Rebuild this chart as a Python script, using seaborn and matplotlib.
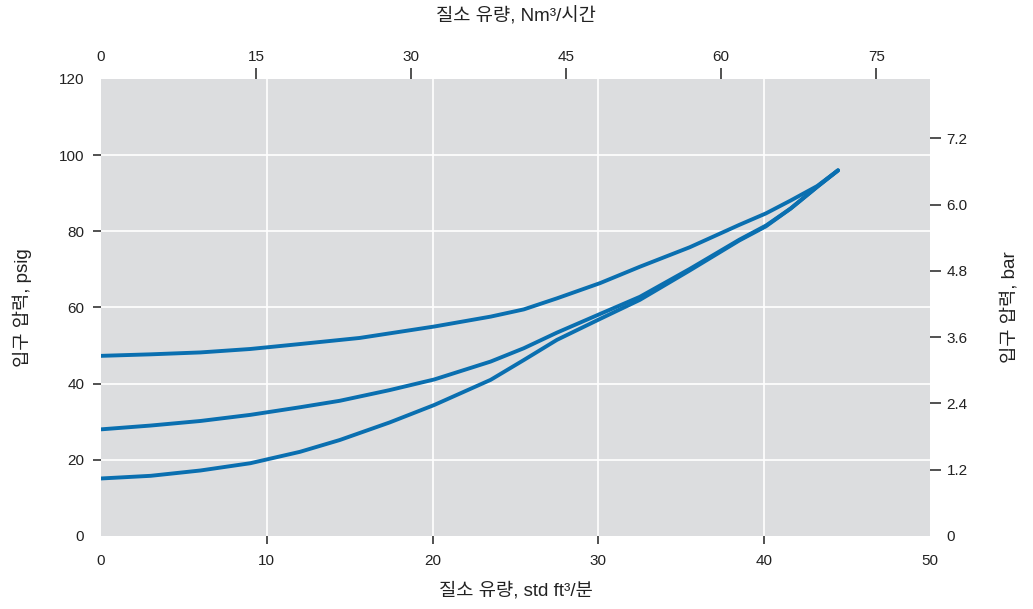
import numpy as np
import pandas as pd
import seaborn as sns
import matplotlib
matplotlib.use('Agg')
import matplotlib.pyplot as plt
from matplotlib.ticker import FixedLocator, FixedFormatter

# data (x in std ft3/min, y in psig)
flow_upper = [0, 3, 6, 9, 12, 15.6, 17.4, 20.1, 23.5, 25.5, 27.5, 30.1,
              32.5, 35.5, 38.5, 40.1, 41.6, 43.2, 44.45]
psig_upper = [47.3, 47.7, 48.2, 49.1, 50.4, 52.0, 53.2, 55.0, 57.6, 59.5, 62.4, 66.4,
              70.7, 75.8, 81.7, 84.7, 88.1, 91.9, 96.0]

flow_middle = [0, 3, 6, 9, 12, 14.4, 17.4, 20.1, 23.5, 25.5, 27.5, 30.1,
               32.5, 35.5, 38.5, 40.1, 41.6, 43.2, 44.45]
psig_middle = [28.0, 29.0, 30.2, 31.8, 33.8, 35.5, 38.3, 41.1, 45.8, 49.3, 53.4, 58.3,
               62.8, 70.1, 77.8, 81.5, 86.0, 91.7, 96.0]

flow_lower = [0, 3, 6, 9, 12, 14.4, 17.4, 20.1, 23.5, 25.5, 27.5, 30.1,
              32.5, 35.5, 38.5, 40.1, 41.6, 43.2, 44.45]
psig_lower = [15.1, 15.8, 17.2, 19.1, 22.1, 25.2, 29.8, 34.4, 41.0, 46.2, 51.5, 57.0,
              62.0, 69.7, 77.6, 81.3, 86.0, 91.7, 96.0]

bottom_ticks = [0, 10, 20, 30, 40, 50]
left_ticks = [0, 20, 40, 60, 80, 100, 120]
top_ticks = [0, 15, 30, 45, 60, 75]
right_ticks = [0, 1.2, 2.4, 3.6, 4.8, 6.0, 7.2]
right_labels = ['0', '1.2', '2.4', '3.6', '4.8', '6.0', '7.2']

SCFM_TO_NM3H = 1.604
PSI_TO_BAR = 0.06895

rows = []
for name, xs, ys in [('upper', flow_upper, psig_upper),
                     ('middle', flow_middle, psig_middle),
                     ('lower', flow_lower, psig_lower)]:
    for x, y in zip(xs, ys):
        rows.append({'curve': name, 'flow': x, 'psig': y})
df = pd.DataFrame(rows)

sns.set_theme(style='darkgrid')
plt.rcParams['font.family'] = ['Liberation Sans', 'Noto Sans CJK KR', 'DejaVu Sans']
blue = '#0a6fb0'
txt = '#222222'
tick_col = '#333333'
TL = 8  # tick mark length, px

W, H = 10.33, 6.09
box = [0.0978, 0.1199, 0.9003 - 0.0978, 0.8703 - 0.1199]
fig = plt.figure(figsize=(W, H), dpi=100)
ax = fig.add_axes(box)
ax.set_facecolor('#dcdddf')

sns.lineplot(data=df, x='flow', y='psig', units='curve', estimator=None,
             color=blue, linewidth=2.8, sort=False, ax=ax, legend=False)
for l in ax.lines:
    l.set_solid_capstyle('round')
    l.set_solid_joinstyle('round')

ax.set_xlim(0, 50)
ax.set_ylim(0, 120)
for s in ax.spines.values():
    s.set_visible(False)

# the main axes only carries the white grid
ax.set_axisbelow('line')
ax.xaxis.set_major_locator(FixedLocator(bottom_ticks[1:-1]))
ax.yaxis.set_major_locator(FixedLocator(left_ticks[1:-1]))
ax.grid(True, which='major', color='white', linewidth=1.2)
ax.tick_params(which='both', length=0, labelbottom=False, labelleft=False)
ax.set_xlabel('')
ax.set_ylabel('')

# bottom / left tick marks (the end ticks have none)
dy = TL / (box[3] * H * 100)
dx = TL / (box[2] * W * 100)
for x in bottom_ticks[1:-1]:
    ax.plot([x, x], [0, -dy], transform=ax.get_xaxis_transform(), clip_on=False,
            color=tick_col, lw=1.2, solid_capstyle='butt', zorder=5)
for y in left_ticks[1:-1]:
    ax.plot([0, -dx], [y, y], transform=ax.get_yaxis_transform(), clip_on=False,
            color=tick_col, lw=1.2, solid_capstyle='butt', zorder=5)


def style_axis(axis, ticks, labels, unmarked):
    # ticks with a mark are major, the end ticks without a mark are minor
    labels = labels or [f'{t:g}' for t in ticks]
    marked = [i for i in range(len(ticks)) if i not in unmarked]
    axis.set_major_locator(FixedLocator([ticks[i] for i in marked]))
    axis.set_major_formatter(FixedFormatter([labels[i] for i in marked]))
    axis.set_minor_locator(FixedLocator([ticks[i] for i in unmarked]))
    axis.set_minor_formatter(FixedFormatter([labels[i] for i in unmarked]))


def style_ticks(a, side, pad, length=TL):
    a.tick_params(which='major', **{side: True}, length=length, width=1.2,
                  color=tick_col, direction='out', labelsize=11,
                  labelcolor=txt, pad=pad + TL - length)
    a.tick_params(which='minor', **{side: True}, length=0, labelsize=11,
                  labelcolor=txt, pad=pad + TL)
    for s in a.spines.values():
        s.set_visible(False)


ident = (lambda v: v, lambda v: v)

bottom = ax.secondary_xaxis('bottom', functions=ident)
style_axis(bottom.xaxis, bottom_ticks, None, [0, len(bottom_ticks) - 1])
style_ticks(bottom, 'bottom', 5, length=0)
bottom.set_xlabel('질소 유량, std ft³/분', fontsize=13.5, color=txt, labelpad=10)

left = ax.secondary_yaxis('left', functions=ident)
style_axis(left.yaxis, left_ticks, None, [0, len(left_ticks) - 1])
style_ticks(left, 'left', 4, length=0)
left.set_ylabel('입구 압력, psig', fontsize=13.5, color=txt, labelpad=19)

top = ax.secondary_xaxis('top', functions=(lambda x: x * SCFM_TO_NM3H,
                                           lambda x: x / SCFM_TO_NM3H))
style_axis(top.xaxis, top_ticks, None, [0])
style_ticks(top, 'top', 3)
top.set_xlabel('질소 유량, Nm³/시간', fontsize=13.5, color=txt, labelpad=20)

right = ax.secondary_yaxis('right', functions=(lambda y: y * PSI_TO_BAR,
                                               lambda y: y / PSI_TO_BAR))
style_axis(right.yaxis, right_ticks, right_labels, [0])
style_ticks(right, 'right', 4)
right.set_ylabel('입구 압력, bar', fontsize=13.5, color=txt, labelpad=24)

fig.savefig('out.png', dpi=100, facecolor='white')
